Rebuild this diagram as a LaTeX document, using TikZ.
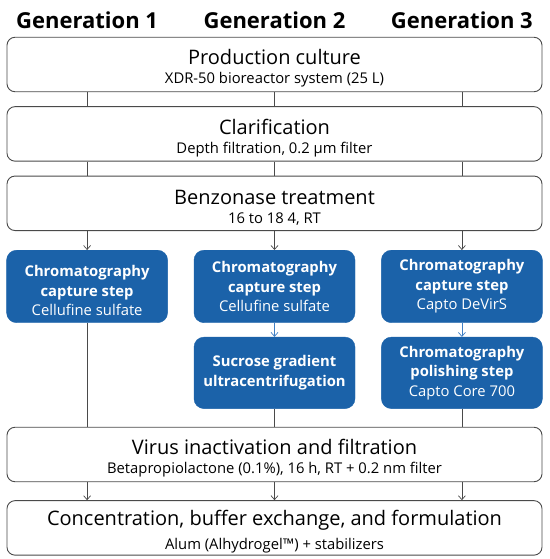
\documentclass[tikz,border=0pt]{standalone}
\usepackage{fontspec}
\setmainfont{Open Sans}
\usetikzlibrary{arrows.meta, positioning, calc}
\definecolor{genblue}{HTML}{1B62A9}
\definecolor{linkblue}{HTML}{3F7FC4}
\definecolor{linegray}{HTML}{4A4A4A}
\newcommand{\steptext}[2]{{\fontsize{20}{22}\selectfont\rule{0pt}{23pt}#1}\\[7pt]{\fontsize{14.8}{16}\selectfont #2}}

\begin{document}
\begin{tikzpicture}[x=1pt, y=1pt, node distance = 14pt and 26pt,
  stage/.style={draw=linegray, line width=0.9pt, rounded corners=8pt, minimum width=535pt, minimum height=54.5pt, align=center, inner sep=0pt},
  gen/.style={fill=genblue, draw=genblue, rounded corners=10pt, text=white, minimum width=161pt, minimum height=72.5pt, align=center, inner sep=0pt, font=\fontsize{14.8}{19.5}\selectfont},
  head/.style={anchor=base, font=\fontsize{22}{26}\selectfont\bfseries},
  tip/.style={-{Straight Barb[length=4pt, width=7pt]}}
]
\useasboundingbox (0,0) rectangle (549,-559);
\node (prod) [stage] at (274.5,-64.5) {\steptext{Production culture}{XDR-50 bioreactor system (25 L)}};
\node (clar) [stage, below=of prod] {\steptext{Clarification}{Depth filtration, 0.2 µm filter}};
\node (benz) [stage, below=of clar] {\steptext{Benzonase treatment}{16 to 18 4, RT}};
%
\node (cap2) [gen, below=19pt of benz] {\textbf{Chromatography}\\\textbf{capture step}\\Cellufine sulfate};
\node (cap1) [gen, left=of cap2]  {\rule{0pt}{20pt}\textbf{Chromatography}\\\textbf{capture step}\\Cellufine sulfate};
\node (cap3) [gen, right=of cap2] {\textbf{Chromatography}\\\textbf{capture step}\\Capto DeVirS};
\node (suc2) [gen, below=of cap2, minimum height=71.5pt] {\textbf{Sucrose gradient}\\\textbf{ultracentrifugation}};
\node (pol3) [gen, below=of cap3, minimum height=71.5pt] {\textbf{Chromatography}\\\textbf{polishing step}\\Capto Core 700};
%
\node (inact) [stage, below=18pt of suc2] {\steptext{Virus inactivation and filtration}{Betapropiolactone (0.1\%), 16 h, RT + 0.2 nm filter}};
\node (form)  [stage, below=18pt of inact] {\steptext{Concentration, buffer exchange, and formulation}{Alum (Alhydrogel™) + stabilizers}};
%
\foreach \g in {1,2,3}
  \node[head] at (cap\g |- 0,-29) {Generation \g};
%
\begin{scope}[draw=linegray, line width=0.7pt]
\foreach \g in {cap1,cap2,cap3} {
  \draw (prod.south -| \g) -- (clar.north -| \g);
  \draw (clar.south -| \g) -- (benz.north -| \g);
  \draw[tip] (benz.south -| \g) -- (\g.north);
  \draw[tip] (inact.south -| \g) -- (form.north -| \g);
}
\draw (cap1.south) -- (inact.north -| cap1);
\draw (suc2.south) -- (inact.north -| suc2);
\draw (pol3.south) -- (inact.north -| pol3);
\end{scope}
\draw[tip, draw=linkblue, line width=0.7pt] (cap2) -- (suc2);
\draw[tip, draw=linkblue, line width=0.7pt] (cap3) -- (pol3);
\end{tikzpicture}
\end{document}
